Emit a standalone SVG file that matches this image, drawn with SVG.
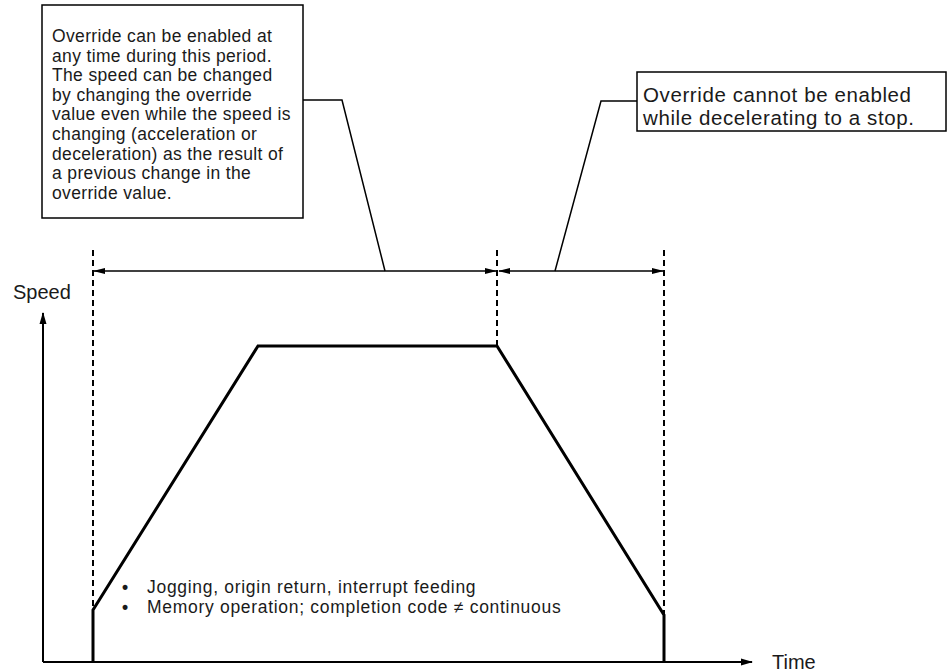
<svg xmlns="http://www.w3.org/2000/svg" width="950" height="672" viewBox="0 0 950 672">
<style>
.t{font-family:"Liberation Sans",Arial,sans-serif;fill:#1a1a1a}
.box{fill:#fff;stroke:#000;stroke-width:1.5}
.ln{fill:none;stroke:#000;stroke-width:1.5}
.dash{fill:none;stroke:#000;stroke-width:2;stroke-dasharray:6 4}
.axis{fill:none;stroke:#000;stroke-width:2}
.prof{fill:none;stroke:#000;stroke-width:3;stroke-linejoin:miter}
</style>
<defs>
<marker id="ah" markerWidth="12" markerHeight="8" refX="11" refY="4" orient="auto-start-reverse" markerUnits="userSpaceOnUse">
<path d="M0,1 L12,4 L0,7 Z" fill="#000"/>
</marker>
<marker id="axh" markerWidth="12" markerHeight="8" refX="11" refY="4" orient="auto" markerUnits="userSpaceOnUse">
<path d="M0,0.5 L12,4 L0,7.5 Z" fill="#000"/>
</marker>
</defs>
<rect width="950" height="672" fill="#fff"/>
<g id="connectors">
<line class="dash" x1="93" y1="250" x2="93" y2="610"/>
<line class="dash" x1="497" y1="250" x2="497" y2="346"/>
<line class="dash" x1="664" y1="250" x2="664" y2="615"/>
<line class="ln" x1="94" y1="271" x2="496" y2="271" marker-start="url(#ah)" marker-end="url(#ah)"/>
<line class="ln" x1="499" y1="271" x2="663" y2="271" marker-start="url(#ah)" marker-end="url(#ah)"/>
<polyline class="ln" points="303,100 342,100 385,271"/>
<polyline class="ln" points="637,101 601,101 555,271"/>
<line class="axis" x1="43" y1="662" x2="43" y2="313" marker-end="url(#axh)"/>
<line class="axis" x1="43" y1="662" x2="752" y2="662" marker-end="url(#axh)"/>
<polyline class="prof" points="93,662 93,610 258,346 497,346 664,615 664,662"/>
</g>
<g id="note1">
<rect class="box" x="42" y="5" width="261" height="213"/>
<text class="t" font-size="17.5" letter-spacing="0.35">
<tspan x="52" y="42">Override can be enabled at</tspan>
<tspan x="52" y="61.6">any time during this period.</tspan>
<tspan x="52" y="81.2">The speed can be changed</tspan>
<tspan x="52" y="100.8">by changing the override</tspan>
<tspan x="52" y="120.4">value even while the speed is</tspan>
<tspan x="52" y="140">changing (acceleration or</tspan>
<tspan x="52" y="159.6">deceleration) as the result of</tspan>
<tspan x="52" y="179.2">a previous change in the</tspan>
<tspan x="52" y="198.8">override value.</tspan>
</text>
</g>
<g id="note2">
<rect class="box" x="637" y="72" width="309" height="59"/>
<text class="t" font-size="20.5" letter-spacing="0.6">
<tspan x="643" y="102">Override cannot be enabled</tspan>
<tspan x="643" y="125">while decelerating to a stop.</tspan>
</text>
</g>
<g id="labels">
<text class="t" font-size="20" x="13" y="299">Speed</text>
<text class="t" font-size="20" x="772" y="669">Time</text>
<text class="t" font-size="17.5" letter-spacing="0.7">
<tspan x="122" y="593" font-weight="bold">•</tspan><tspan x="147" y="593">Jogging, origin return, interrupt feeding</tspan>
<tspan x="122" y="612.6" font-weight="bold">•</tspan><tspan x="147" y="612.6">Memory operation; completion code ≠ continuous</tspan>
</text>
</g>
</svg>
